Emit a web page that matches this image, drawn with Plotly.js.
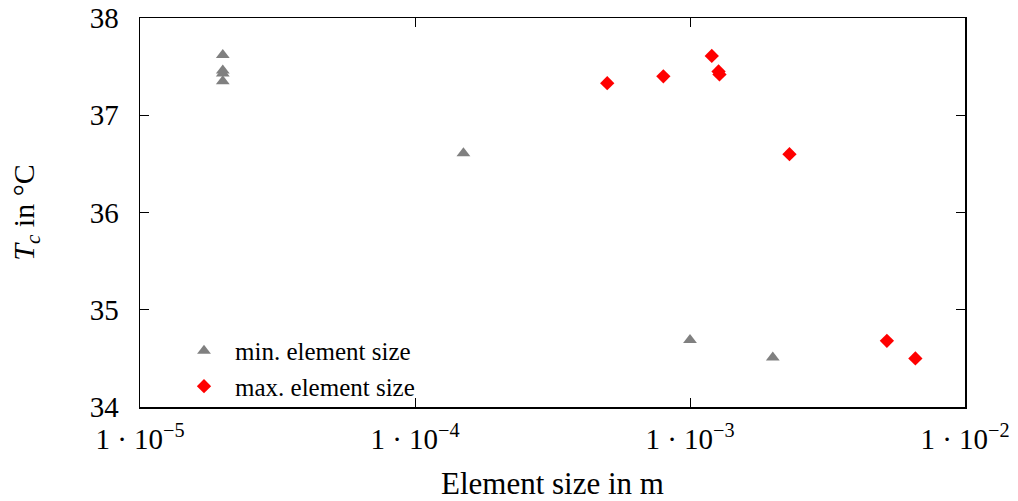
<!DOCTYPE html>
<html><head><meta charset="utf-8">
<script src="https://cdn.plot.ly/plotly-3.0.1.min.js"></script>
<style>body{margin:0;background:#fff}#p{width:1018px;height:501px}</style>
</head><body><div id="p"></div>
<script>
const minSizeX = [2e-5, 2e-5, 2e-5, 2e-5, 1.5e-4, 1e-3, 2e-3];
const minSizeY = [37.62, 37.46, 37.43, 37.35, 36.61, 34.69, 34.51];
const maxSizeX = [5e-4, 8e-4, 1.2e-3, 1.27e-3, 1.28e-3, 2.3e-3, 5.2e-3, 6.6e-3];
const maxSizeY = [37.33, 37.40, 37.61, 37.45, 37.42, 36.60, 34.68, 34.50];
const xTickVals = [1e-5, 1e-4, 1e-3, 1e-2];
const xTickText = ['1 · 10<sup>−5</sup>', '1 · 10<sup>−4</sup>', '1 · 10<sup>−3</sup>', '1 · 10<sup>−2</sup>'];
const yTickVals = [34, 35, 36, 37, 38];

const font = "'Liberation Serif', 'DejaVu Serif', serif";
const traces = [
  {x: minSizeX, y: minSizeY, mode: 'markers', type: 'scatter', name: 'min. element size',
   marker: {symbol: 'triangle-up', size: 12, color: '#808080'}},
  {x: maxSizeX, y: maxSizeY, mode: 'markers', type: 'scatter', name: 'max. element size',
   marker: {symbol: 'diamond', size: 11, color: '#ff0000'}}
];
const layout = {
  width: 1018, height: 501,
  margin: {l: 140, r: 53, t: 18, b: 94},
  paper_bgcolor: '#fff', plot_bgcolor: '#fff',
  font: {family: font, size: 28, color: '#000'},
  showlegend: true,
  legend: {x: 0.04, y: -0.005, xanchor: 'left', yanchor: 'bottom', bgcolor: 'rgba(0,0,0,0)',
           font: {family: font, size: 25}, itemwidth: 52, tracegroupgap: 0},
  xaxis: {type: 'log', range: [-5, -2], tickvals: xTickVals, ticktext: xTickText,
          ticks: 'inside', ticklen: 9, tickcolor: '#000', mirror: 'ticks', showline: true,
          linecolor: '#000', linewidth: 1.5, showgrid: false, zeroline: false,
          tickfont: {family: font, size: 29}, ticklabelstandoff: 6,
          title: {text: 'Element size in m', font: {family: font, size: 31}, standoff: 28}},
  yaxis: {range: [34, 38], tickvals: yTickVals, ticks: 'inside', ticklen: 9, tickcolor: '#000',
          mirror: 'ticks', showline: true, linecolor: '#000', linewidth: 1.5, showgrid: false,
          zeroline: false, tickfont: {family: font, size: 29}, ticklabelstandoff: 14,
          title: {text: '<i>T<sub>c</sub></i> in °C', font: {family: font, size: 30}, standoff: 46}}
};
Plotly.newPlot('p', traces, layout, {staticPlot: true});
</script></body></html>
